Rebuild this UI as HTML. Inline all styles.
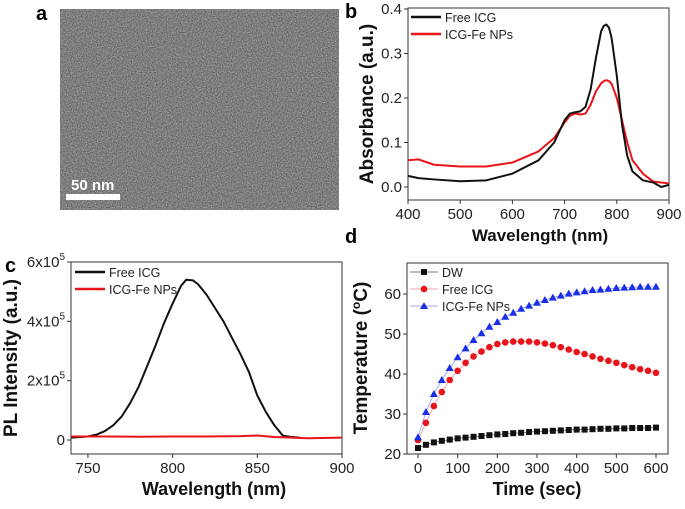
<!DOCTYPE html>
<html><head><meta charset="utf-8"><style>
body{margin:0;background:#fff;width:685px;height:504px;overflow:hidden}
svg{font-family:"Liberation Sans",sans-serif}
</style></head><body>
<svg id="fig" width="685" height="504" viewBox="0 0 685 504">
<defs>
<filter id="noise" x="0" y="0" width="100%" height="100%">
<feTurbulence type="fractalNoise" baseFrequency="0.8" numOctaves="2" seed="3"/>
<feColorMatrix type="matrix" values="0 0 0 0 0.5  0 0 0 0 0.5  0 0 0 0 0.5  0 0 0 1.4 -0.3"/>
</filter>
</defs>
<g>
<text x="36" y="20" font-size="20" font-weight="bold">a</text>
<rect x="60" y="9" width="279" height="201" fill="#5c5c5c"/>
<rect x="60" y="9" width="279" height="201" filter="url(#noise)" opacity="0.9"/>
<rect x="66" y="194" width="54" height="6" fill="#fff"/>
<text x="71" y="190" font-size="15" font-weight="bold" fill="#fff">50 nm</text>
</g>
<text x="345" y="18" font-size="20" font-weight="bold">b</text>
<text x="5" y="272" font-size="20" font-weight="bold">c</text>
<text x="345" y="243" font-size="20" font-weight="bold">d</text>
<g id="pb"></g>
<g id="pc"></g>
<g id="pd"></g>
</svg>
<script>
// Panel b data
const bWave=[400,420,450,500,550,600,650,680,700,710,720,730,740,750,760,770,775,780,785,790,800,810,820,830,850,870,885,900];
const bFree=[0.025,0.02,0.017,0.013,0.015,0.03,0.06,0.1,0.15,0.165,0.168,0.17,0.18,0.22,0.29,0.35,0.362,0.365,0.358,0.335,0.25,0.14,0.07,0.035,0.015,0.01,0.0,0.005];
const bFe=[0.06,0.062,0.05,0.046,0.046,0.055,0.08,0.11,0.145,0.16,0.165,0.163,0.165,0.185,0.215,0.233,0.238,0.24,0.238,0.232,0.2,0.15,0.1,0.06,0.03,0.012,0.01,0.008];
const bXTicks=[400,500,600,700,800,900];
const bYTicks=[0.0,0.1,0.2,0.3,0.4];
// Panel c data
const cWave=[740,750,755,760,765,770,775,780,785,790,795,800,805,808,812,815,820,825,830,835,840,845,850,855,860,865,870,875];
const cFree=[0.08,0.12,0.18,0.3,0.5,0.8,1.25,1.8,2.5,3.2,3.95,4.6,5.2,5.4,5.38,5.25,4.9,4.45,4.0,3.45,2.9,2.3,1.5,0.95,0.5,0.15,0.1,0.08];
const cWaveFe=[740,760,780,800,820,840,850,860,880,900];
const cFe=[0.12,0.12,0.11,0.12,0.12,0.13,0.15,0.1,0.06,0.08];
const cXTicks=[750,800,850,900];
const cYTicks=[0,2,4,6];
// Panel d data
const dTime=[0,20,40,60,80,100,120,140,160,180,200,220,240,260,280,300,320,340,360,380,400,420,440,460,480,500,520,540,560,580,600];
const dDW=[21.5,22.3,22.9,23.3,23.6,23.9,24.1,24.3,24.5,24.7,24.9,25.0,25.2,25.3,25.5,25.6,25.7,25.8,25.9,26.0,26.1,26.1,26.2,26.3,26.3,26.4,26.4,26.5,26.5,26.5,26.6];
const dFree=[23.5,27.8,32,35.5,38.5,40.8,42.8,44.4,45.6,46.7,47.5,47.9,48.1,48.1,48.1,47.9,47.6,47.2,46.7,46.1,45.5,45.0,44.4,43.8,43.3,42.8,42.2,41.7,41.2,40.8,40.3];
const dFe=[24.2,30.5,35,38.5,41.5,44.2,46.4,48.5,50.2,51.8,53,54.3,55.3,56.3,57.1,57.8,58.5,59.1,59.6,60.1,60.4,60.7,61,61.1,61.3,61.5,61.6,61.7,61.8,61.8,61.8];
const dXTicks=[0,100,200,300,400,500,600];
const dYTicks=[20,30,40,50,60];

const NS="http://www.w3.org/2000/svg";
function mk(parent,tag,attrs){const e=document.createElementNS(NS,tag);for(const k in attrs)e.setAttribute(k,attrs[k]);parent.appendChild(e);return e;}
function scale(d0,d1,r0,r1){return v=>r0+(v-d0)/(d1-d0)*(r1-r0);}

function frame(g,L,T,R,B){
 const f=mk(g,'rect',{x:L,y:T,width:R-L,height:B-T,fill:'none',stroke:'#333','stroke-width':1});
 
 
}
function xTicks(g,ticks,sx,B,fmt){
 ticks.forEach(t=>{
  mk(g,'line',{x1:sx(t),x2:sx(t),y1:B,y2:B+4,stroke:'#333'});
  const tx=mk(g,'text',{x:sx(t),y:B+19,'font-size':15,'text-anchor':'middle',fill:'#222'});
  tx.textContent=fmt?fmt(t):t;
  
  
 });
}
function yTicks(g,ticks,sy,L,fmt){
 ticks.forEach(t=>{
  mk(g,'line',{x1:L-4,x2:L,y1:sy(t),y2:sy(t),stroke:'#333'});
  const tx=mk(g,'text',{x:L-6,y:sy(t)+5,'font-size':15,'text-anchor':'end',fill:'#222'});
  tx.innerHTML=fmt?fmt(t):t;
  
  
 });
}
function line(g,xs,ys,sx,sy,color,w,name){
 const p=mk(g,'polyline',{points:xs.map((x,i)=>sx(x)+','+sy(ys[i])).join(' '),fill:'none',stroke:color,'stroke-width':w,'stroke-linejoin':'round'});
 
 
}
function title(g,x,y,txt,rot,name,fs){
 const t=mk(g,'text',{x:x,y:y,'font-size':fs||19,'font-weight':'bold','text-anchor':'middle',fill:'#111'});
 if(rot)t.setAttribute('transform','rotate(-90 '+x+' '+y+')');
 t.innerHTML=txt;
 
 
}
function legLine(g,x,y,color,label){
 mk(g,'line',{x1:x,x2:x+30,y1:y,y2:y,stroke:color,'stroke-width':2.5});
 const t=mk(g,'text',{x:x+34,y:y+5,'font-size':12.5,fill:'#222'});
 t.textContent=label;
 
 
}

// Panel b
(function(){
 const g=document.getElementById('pb');
 const L=408,R=669,T=8,B=200;
 const sx=scale(400,900,L,R), sy=scale(0,0.4,187,9);
 frame(g,L,T,R,B);
 xTicks(g,bXTicks,sx,B);
 yTicks(g,bYTicks,sy,L,v=>v.toFixed(1));
 line(g,bWave,bFe,sx,sy,'#e8141a',2,'series-ICG-Fe-NPs');
 line(g,bWave,bFree,sx,sy,'#111',2,'series-free-ICG');
 legLine(g,411,17,'#111','Free ICG');
 legLine(g,411,34,'#e8141a','ICG-Fe NPs');
 title(g,540,241,'Wavelength (nm)',false,'x-axis-title',17);
 title(g,373,104,'Absorbance (a.u.)',true,'y-axis-title');
})();
// Panel c
(function(){
 const g=document.getElementById('pc');
 const L=71,R=342,T=262,B=454;
 const sx=scale(740,900,L,R), sy=scale(0,6,440,262);
 frame(g,L,T,R,B);
 xTicks(g,cXTicks,sx,B);
 yTicks(g,cYTicks,sy,L,v=>v===0?'0':v+'x10<tspan font-size="10" dy="-7">5</tspan>');
 line(g,cWave,cFree,sx,sy,'#111',2,'series-free-ICG');
 line(g,cWaveFe,cFe,sx,sy,'#e8141a',2,'series-ICG-Fe-NPs');
 legLine(g,75,272,'#111','Free ICG');
 legLine(g,75,289,'#e8141a','ICG-Fe NPs');
 title(g,214,495,'Wavelength (nm)',false,'x-axis-title',18);
 title(g,17,358,'PL Intensity (a.u.)',true,'y-axis-title');
})();
// Panel d
(function(){
 const g=document.getElementById('pd');
 const L=407,R=668,T=263,B=454;
 const sx=scale(0,600,418,656), sy=scale(20,60,454,294);
 frame(g,L,T,R,B);
 xTicks(g,dXTicks,sx,B);
 yTicks(g,dYTicks,sy,L);
 line(g,dTime,dDW,sx,sy,'#555',0.7,'line-DW');
 line(g,dTime,dFree,sx,sy,'#e88',0.7,'line-free-ICG');
 line(g,dTime,dFe,sx,sy,'#88f',0.7,'line-ICG-Fe-NPs');
 dTime.forEach((t,i)=>{
  const s=mk(g,'rect',{x:sx(t)-3,y:sy(dDW[i])-3,width:6,height:6,fill:'#111'});
  
  
  const c=mk(g,'circle',{cx:sx(t),cy:sy(dFree[i]),r:3.3,fill:'#e8141a'});
  
  
  const x=sx(t),y=sy(dFe[i]);
  const p=mk(g,'polygon',{points:`${x},${y-4} ${x-4},${y+3} ${x+4},${y+3}`,fill:'#1a2ee8'});
  
  
 });
 const lg=[['DW','#555'],['Free ICG','#e88'],['ICG-Fe NPs','#88f']];
 lg.forEach((d,i)=>{
  const y=272+i*17;
  mk(g,'line',{x1:410,x2:438,y1:y,y2:y,stroke:d[1],'stroke-width':0.7});
  if(i===0)mk(g,'rect',{x:421,y:y-3,width:6,height:6,fill:'#111'});
  if(i===1)mk(g,'circle',{cx:424,cy:y,r:3.3,fill:'#e8141a'});
  if(i===2)mk(g,'polygon',{points:`424,${y-4} 420,${y+3} 428,${y+3}`,fill:'#1a2ee8'});
  const t=mk(g,'text',{x:442,y:y+5,'font-size':12.5,fill:'#222'});
  t.textContent=d[0];
  
  
 });
 title(g,537,495,'Time (sec)',false,'x-axis-title',18);
 title(g,367,358,'Temperature (<tspan font-size="12" dy="-7">o</tspan><tspan dy="7">C)</tspan>',true,'y-axis-title');
})();
</script>
</body></html>
